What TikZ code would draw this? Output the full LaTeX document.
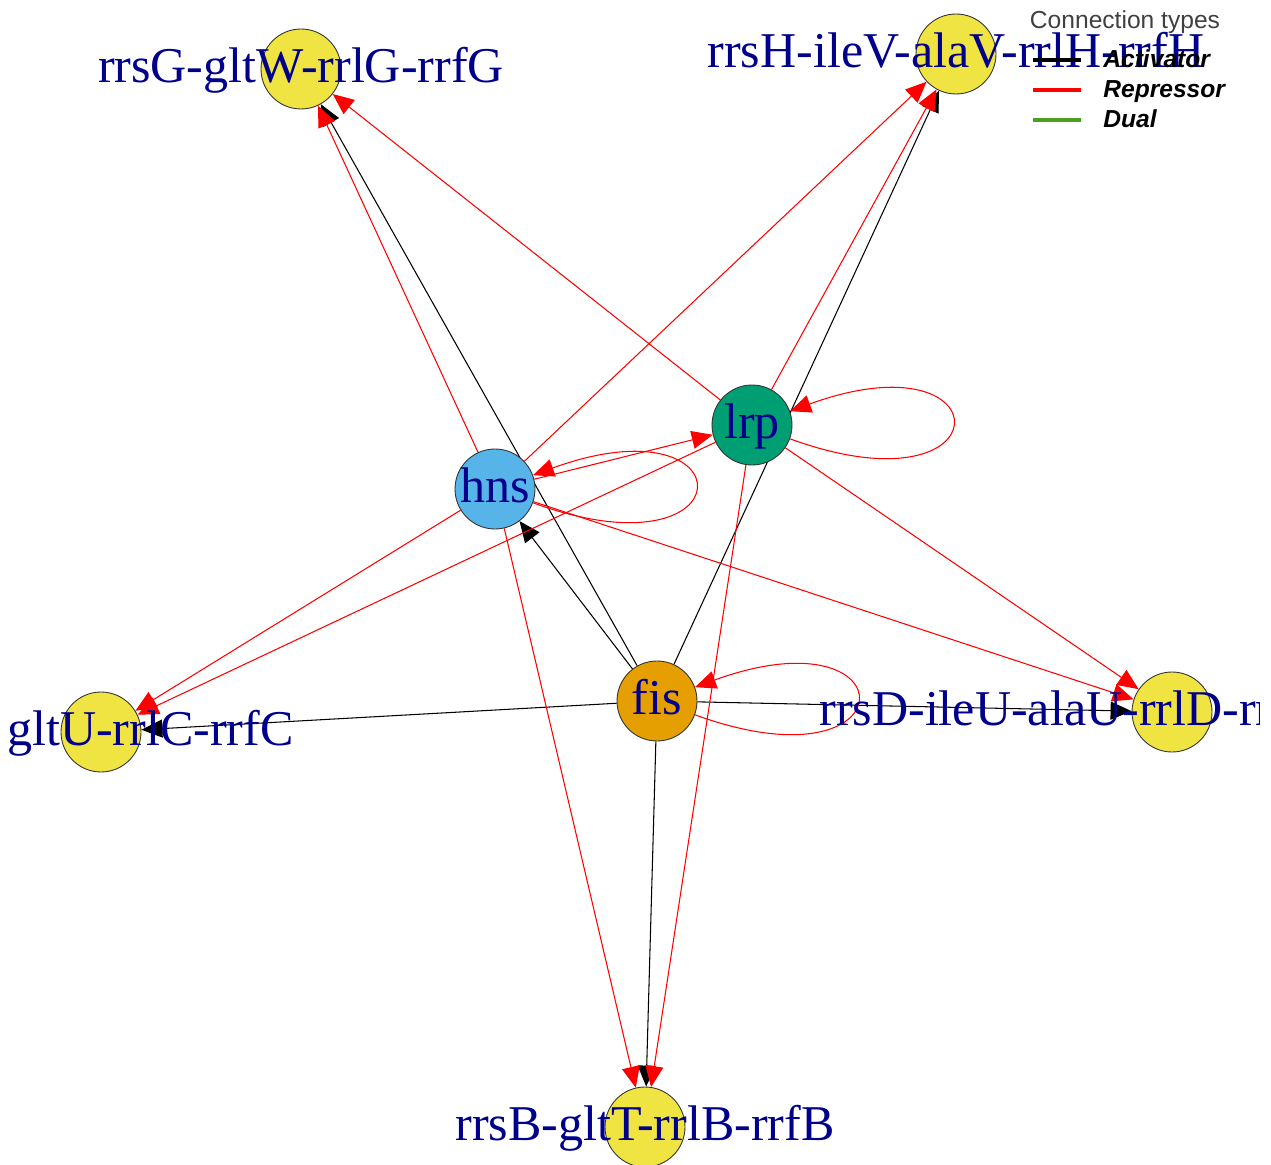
\documentclass[tikz,border=0pt]{standalone}
\usepackage{fontspec}
\setmainfont{Liberation Serif}
\newfontfamily\legendfont{Liberation Sans}
\usetikzlibrary{arrows.meta}
\pgfdeclarelayer{background}
\pgfsetlayers{background,main}
\definecolor{geneyellow}{HTML}{F0E442}
\definecolor{lrpgreen}{HTML}{009E73}
\definecolor{hnsblue}{HTML}{56B4E9}
\definecolor{fisorange}{HTML}{E69F00}
\definecolor{labelblue}{HTML}{00008B}
\definecolor{dualgreen}{RGB}{77,160,30}

\begin{document}
\begin{tikzpicture}[x=0.02cm, y=-0.02cm,
  vertex/.style={circle, draw=black!80, line width=0.5pt, minimum size=1.6cm, inner sep=0pt},
  vlabel/.style={anchor=base, text=labelblue, inner sep=0pt, font=\fontsize{28.5}{30}\selectfont},
  act/.style={draw=black, line width=0.6pt, -{Triangle[length=0.42cm, width=0.36cm]}},
  rep/.style={act, draw=red},
  legline/.style={line width=1.8pt},
  legtext/.style={anchor=base west, inner sep=0pt, font=\legendfont\bfseries\itshape\fontsize{14}{16}\selectfont}]
  \useasboundingbox (0,0) rectangle (1271,1165);
  \clip (0,0) rectangle (1259,1165);

  % regulators and operons
  \node[vertex, fill=lrpgreen] (lrp) at (752,425) {};
  \node[vertex, fill=hnsblue] (hns) at (495,489) {};
  \node[vertex, fill=fisorange] (fis) at (657,701) {};
  \node[vertex, fill=geneyellow] (rrsG) at (301,69) {};
  \node[vertex, fill=geneyellow] (rrsH) at (956,54) {};
  \node[vertex, fill=geneyellow] (rrsC) at (101,732) {};
  \node[vertex, fill=geneyellow] (rrsD) at (1172,712) {};
  \node[vertex, fill=geneyellow] (rrsB) at (645,1127) {};

  \begin{pgfonlayer}{background}
    \draw[act] (fis) -- (rrsG);
    \draw[act] (fis) -- (hns);
    \draw[act] (fis) -- (rrsH);
    \draw[act] (fis) -- (rrsC);
    \draw[act] (fis) -- (rrsD);
    \draw[act] (fis) -- (rrsB);
    \draw[rep] (hns) -- (rrsG);
    \draw[rep] (lrp) -- (rrsG);
    \draw[rep] (hns) -- (rrsH);
    \draw[rep] (lrp) -- (rrsH);
    \draw[rep] (hns) -- (lrp);
    \draw[rep] (hns) -- (rrsC);
    \draw[rep] (lrp) -- (rrsC);
    \draw[rep] (hns) -- (rrsD);
    \draw[rep] (lrp) -- (rrsD);
    \draw[rep] (hns) -- (rrsB);
    \draw[rep] (lrp) -- (rrsB);
    \draw[rep] (lrp) to[out=-20, in=20, min distance=4.6cm] (lrp);
    \draw[rep] (hns) to[out=-20, in=20, min distance=4.6cm] (hns);
    \draw[rep] (fis) to[out=-20, in=20, min distance=4.6cm] (fis);
  \end{pgfonlayer}

  \node[vlabel] (lrplbl) at ([yshift=-0.27cm]lrp.center) {lrp};
  \node[vlabel] (hnslbl) at ([yshift=-0.27cm]hns.center) {hns};
  \node[vlabel] (fislbl) at ([yshift=-0.27cm]fis.center) {fis};
  \node[vlabel] (rrsGlbl) at ([yshift=-0.27cm]rrsG.center) {rrsG-gltW-rrlG-rrfG};
  \node[vlabel] (rrsHlbl) at ([yshift=-0.27cm]rrsH.center) {rrsH-ileV-alaV-rrlH-rrfH};
  \node[vlabel, anchor=base east] (rrsClbl) at (294,745.5) {gltU-rrlC-rrfC};
  \node[vlabel, anchor=base west] (rrsDlbl) at (819,725.5) {rrsD-ileU-alaU-rrlD-rr};
  \node[vlabel] (rrsBlbl) at ([yshift=-0.27cm]rrsB.center) {rrsB-gltT-rrlB-rrfB};

  % legend
  \node[anchor=base, inner sep=0pt, text=black!75, font=\legendfont\fontsize{14}{16}\selectfont] (legtitle) at (1125,29) {Connection types};
  \coordinate (actA) at (1033,60);  \coordinate (actB) at (1081,60);
  \coordinate (repA) at (1033,90);  \coordinate (repB) at (1081,90);
  \coordinate (dualA) at (1033,120); \coordinate (dualB) at (1081,120);
  \draw[legline, black] (actA) -- (actB);
  \draw[legline, red] (repA) -- (repB);
  \draw[legline, dualgreen] (dualA) -- (dualB);
  \node[legtext] (actlbl) at (1103,68) {Activator};
  \node[legtext] (replbl) at (1103,98) {Repressor};
  \node[legtext] (duallbl) at (1103,128) {Dual};
\end{tikzpicture}
\end{document}
